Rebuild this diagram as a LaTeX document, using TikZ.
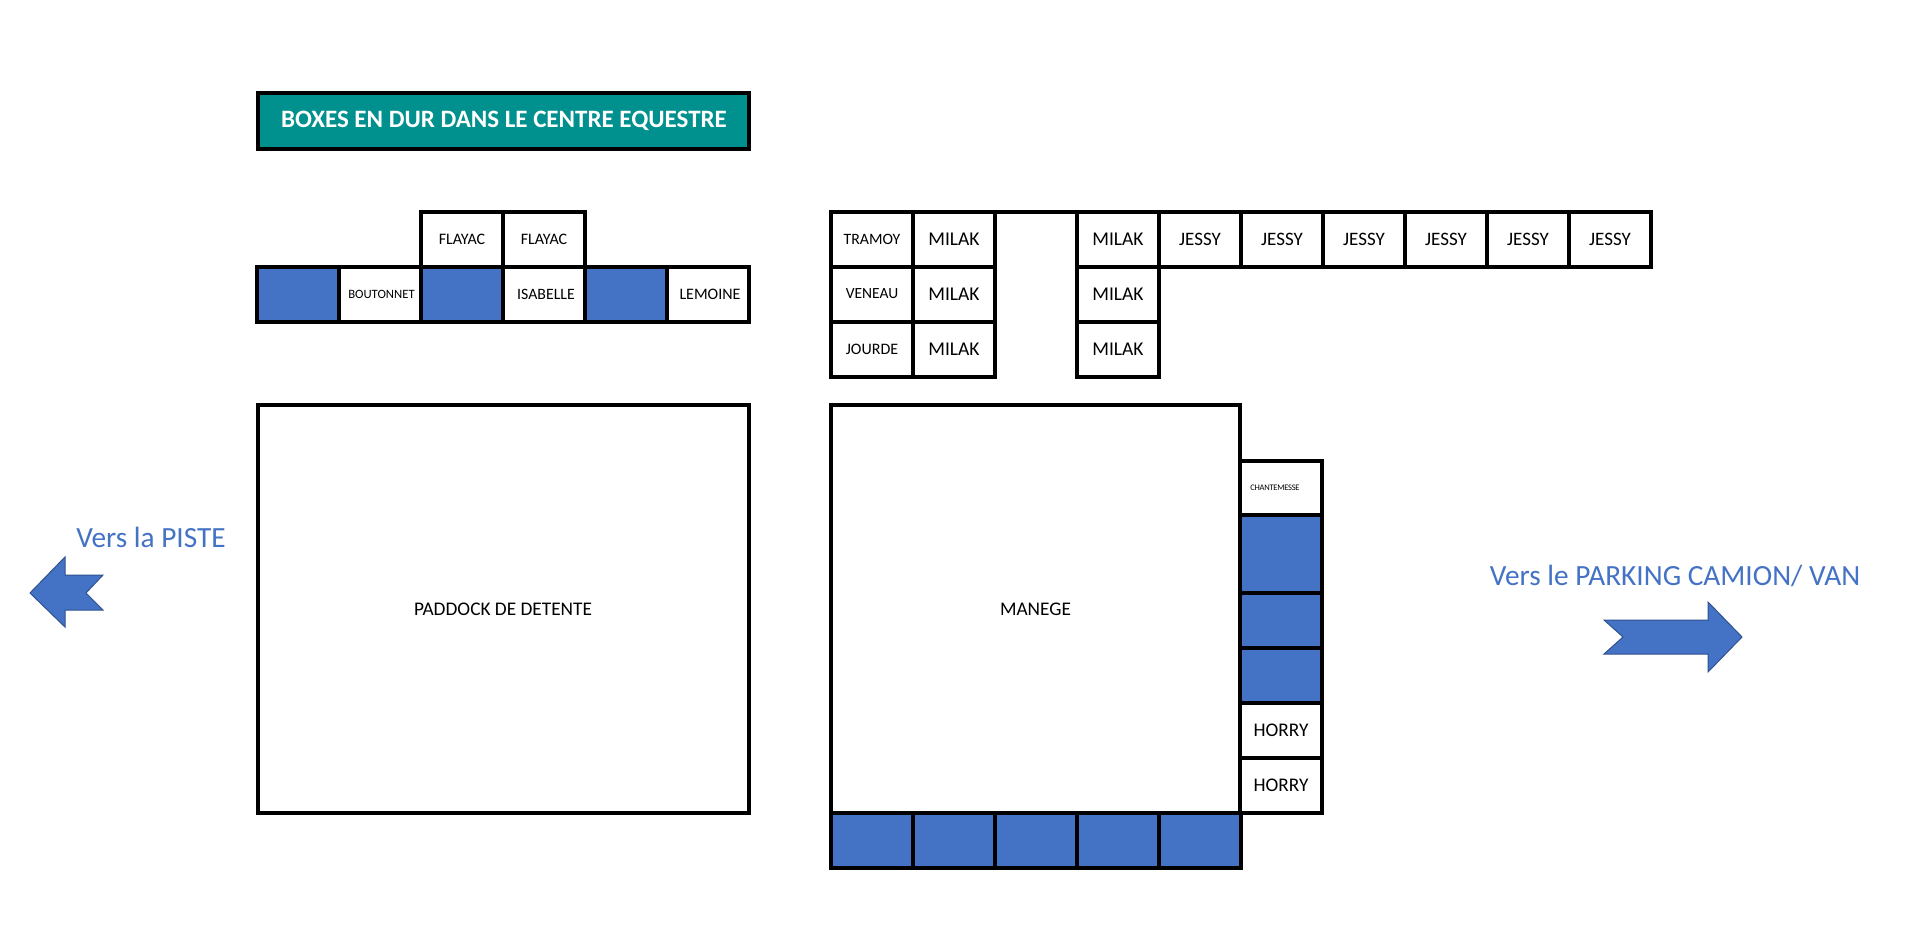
\documentclass[tikz,border=0pt]{standalone}
\usepackage{fontspec}
\setmainfont{Carlito}
\definecolor{bluebox}{HTML}{4472C4}
\definecolor{teal1}{HTML}{00918E}
\definecolor{arrowline}{HTML}{2F528F}
\newcommand{\fs}[1]{\fontsize{#1pt}{#1pt}\selectfont}
\newcommand{\tx}[1]{\raisebox{-1.2pt}{#1}}
\tikzset{
  x=1pt,y=-1pt,
  cellbox/.style={draw=black,line width=4pt,fill=white,outer sep=0pt,inner sep=0pt,minimum width=82pt,minimum height=55pt,align=center,text=black,font=\fs{19}},
  freebox/.style={cellbox,fill=bluebox},
  bigbox/.style={cellbox,font=\fs{19.3}},
  titlebox/.style={cellbox,fill=teal1,text=white,font=\fs{25}\bfseries,minimum width=491pt,minimum height=56pt},
  sign/.style={text=bluebox,inner sep=0pt,outer sep=0pt,font=\fs{29.3}},
  arrowshape/.style={fill=bluebox,draw=arrowline,line width=1pt,line join=miter},
  wall/.style={draw=black,line width=4pt}
}
\begin{document}
\begin{tikzpicture}
\path[use as bounding box,fill=white] (0,0) rectangle (1920,940);
\node[titlebox] (title) at (503,121) {\hspace*{2pt}\raisebox{-3.5pt}{BOXES EN DUR DANS LE CENTRE EQUESTRE}};
% left block
\node[cellbox,font=\fs{16}] (fl1) at (462,239) {\tx{FLAYAC}};
\node[cellbox,font=\fs{16}] (fl2) at (544,239) {\tx{FLAYAC}};
\node[freebox] (l1) at (298,294) {};
\node[cellbox,font=\fs{12.7}] (l2) at (380,294) {\hspace*{3pt}\tx{BOUTONNET}};
\node[freebox] (l3) at (462,294) {};
\node[cellbox,font=\fs{15.8}] (l4) at (544,294) {\hspace*{4pt}\tx{ISABELLE}};
\node[freebox] (l5) at (626,294) {};
\node[cellbox,font=\fs{16}] (l6) at (708,294) {\hspace*{4pt}\tx{LEMOINE}};
% middle block
\node[cellbox,font=\fs{15.8}] (a1) at (872,239) {\tx{TRAMOY}};
\node[cellbox,font=\fs{15.5}] (a2) at (872,294) {\tx{VENEAU}};
\node[cellbox,font=\fs{16}] (a3) at (872,349) {\tx{JOURDE}};
\node[cellbox,font=\fs{19.5}] (b1) at (954,239) {\tx{MILAK}};
\node[cellbox,font=\fs{19.5}] (b2) at (954,294) {\tx{MILAK}};
\node[cellbox,font=\fs{19.5}] (b3) at (954,349) {\tx{MILAK}};
\node[cellbox,font=\fs{19.5}] (c1) at (1118,239) {\tx{MILAK}};
\node[cellbox,font=\fs{19.5}] (c2) at (1118,294) {\tx{MILAK}};
\node[cellbox,font=\fs{19.5}] (c3) at (1118,349) {\tx{MILAK}};
\node[cellbox] (j1) at (1200,239) {\tx{JESSY}};
\node[cellbox] (j2) at (1282,239) {\tx{JESSY}};
\node[cellbox] (j3) at (1364,239) {\tx{JESSY}};
\node[cellbox] (j4) at (1446,239) {\tx{JESSY}};
\node[cellbox] (j5) at (1528,239) {\tx{JESSY}};
\node[cellbox] (j6) at (1610,239) {\tx{JESSY}};
\draw[wall] (b1.north east) -- (c1.north west);
% large areas
\node[bigbox,minimum width=491pt,minimum height=408pt] (paddock) at (503,609) {\tx{PADDOCK DE DETENTE}};
\node[bigbox,minimum width=409pt,minimum height=408pt] (manege) at (1035.5,609) {\tx{MANEGE}};
% right column
\node[cellbox,font=\fs{8.5}\addfontfeature{LetterSpace=-3},minimum height=55pt] (r1) at (1281,488) {\hspace*{-12pt}CHANTEMESSE};
\node[freebox,minimum height=78pt] (r2) at (1281,554) {};
\node[freebox] (r3) at (1281,620) {};
\node[freebox] (r4) at (1281,675) {};
\node[cellbox,font=\fs{19.3}] (r5) at (1281,730) {\tx{HORRY}};
\node[cellbox,font=\fs{19.3}] (r6) at (1281,785) {\tx{HORRY}};
% bottom row
\node[freebox] (d1) at (871.5,840.5) {};
\node[freebox] (d2) at (953.5,840.5) {};
\node[freebox] (d3) at (1035.5,840.5) {};
\node[freebox] (d4) at (1117.5,840.5) {};
\node[freebox] (d5) at (1199.5,840.5) {};
% signs
\node[sign] (piste) at (151,537) {Vers la PISTE};
\node[sign] (parking) at (1675,576) {Vers le PARKING CAMION/ VAN};
\draw[arrowshape] (30,593) -- (65,557) -- (65,575) -- (103,575) -- (86,593) -- (103,610) -- (65,610) -- (65,627) -- cycle;
\draw[arrowshape] (1742,637) -- (1708,602) -- (1708,620) -- (1604,620) -- (1623,637) -- (1604,654) -- (1708,654) -- (1708,672) -- cycle;
\end{tikzpicture}
\end{document}
